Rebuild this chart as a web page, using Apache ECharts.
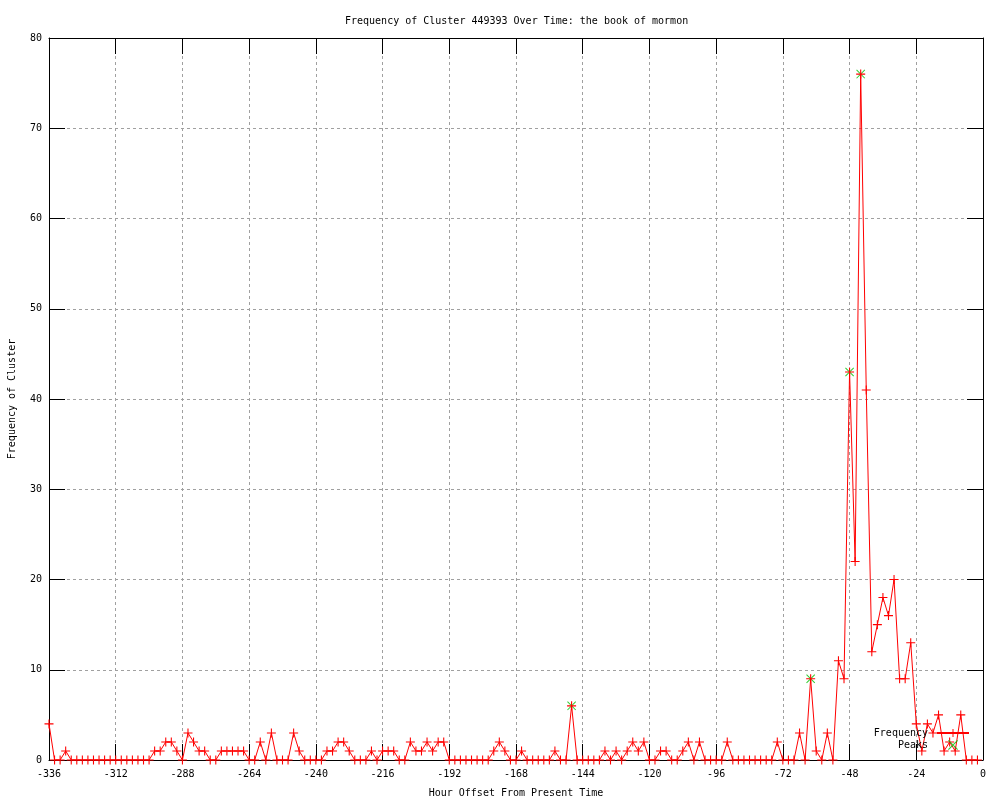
<!DOCTYPE html>
<html>
<head>
<meta charset="utf-8">
<script src="https://cdn.jsdelivr.net/npm/echarts@6/dist/echarts.min.js"></script>
<style>html,body{margin:0;padding:0;background:#fff}#c{width:1000px;height:800px}</style>
</head>
<body>
<div id="c"></div>
<script>
const chartTitle = 'Frequency of Cluster 449393 Over Time: the book of mormon';
const xName = 'Hour Offset From Present Time';
const yName = 'Frequency of Cluster';
const hourStart = -336;
const hourStep = 2;
const frequency = [
  4,0,0,1,0,0,0,0,0,0,0,0,0,0,0,0,0,0,0,1,
  1,2,2,1,0,3,2,1,1,0,0,1,1,1,1,1,0,0,2,0,
  3,0,0,0,3,1,0,0,0,0,1,1,2,2,1,0,0,0,1,0,
  1,1,1,0,0,2,1,1,2,1,2,2,0,0,0,0,0,0,0,0,
  1,2,1,0,0,1,0,0,0,0,0,1,0,0,6,0,0,0,0,0,
  1,0,1,0,1,2,1,2,0,0,1,1,0,0,1,2,0,2,0,0,
  0,0,2,0,0,0,0,0,0,0,0,2,0,0,0,3,0,9,1,0,
  3,0,11,9,43,22,76,41,12,15,18,16,20,9,9,13,4,1,4,3,
  5,1,2,1,5,0,0,0
];
const peakHours = [-148, -62, -48, -44];
const peakValues = [6, 9, 43, 76];

const hours = frequency.map((_, i) => hourStart + hourStep * i);
const freqData = frequency.map((v, i) => [hours[i], v]);
const peakData = peakValues.map((v, i) => [peakHours[i], v]);

const FONT = 'DejaVu Sans Mono';
const plusPath = 'path://M0,4.4L10,4.4L10,5.6L0,5.6Z M4.4,0L5.6,0L5.6,10L4.4,10Z';
const crossPath = 'path://M0,0.8L0.8,0L10,9.2L9.2,10Z M9.2,0L10,0.8L0.8,10L0,9.2Z';

const chart = echarts.init(document.getElementById('c'), null, {renderer: 'canvas'});
const tickStyle = {inside: true, length: 16, lineStyle: {color: '#000', width: 1}};
const option = {
  backgroundColor: '#fff',
  animation: false,
  title: {
    text: chartTitle,
    left: 340, top: 11,
    textStyle: {fontFamily: FONT, fontSize: 10, fontWeight: 'normal', color: '#000'}
  },
  grid: {left: 49, right: 17, top: 38, bottom: 40, containLabel: false, outerBoundsMode: 'none'},
  legend: {
    data: ['Frequency', 'Peaks'],
    orient: 'vertical',
    right: 25, top: 723,
    padding: 5,
    align: 'right',
    itemWidth: 32, itemHeight: 10, itemGap: 2,
    textStyle: {fontFamily: FONT, fontSize: 10, color: '#000', padding: [0, 4, 0, 0]}
  },
  xAxis: [{
    type: 'value', min: -336, max: 0, interval: 24, position: 'bottom',
    name: xName, nameLocation: 'middle', nameGap: 28,
    nameTextStyle: {fontFamily: FONT, fontSize: 10, color: '#000'},
    axisLine: {onZero: false, lineStyle: {color: '#000', width: 1}},
    axisTick: tickStyle,
    axisLabel: {fontFamily: FONT, fontSize: 10, color: '#000', margin: 9},
    splitLine: {show: true, lineStyle: {color: '#a0a0a0', width: 1, type: [3, 3]}}
  }, {
    type: 'value', min: -336, max: 0, interval: 24, position: 'top',
    axisLine: {onZero: false, lineStyle: {color: '#000', width: 1}},
    axisTick: tickStyle,
    axisLabel: {show: false},
    splitLine: {show: false}
  }],
  yAxis: [{
    type: 'value', min: 0, max: 80, interval: 10, position: 'left',
    name: yName, nameLocation: 'middle', nameGap: 32, nameRotate: 90,
    nameTextStyle: {fontFamily: FONT, fontSize: 10, color: '#000'},
    axisLine: {show: true, onZero: false, lineStyle: {color: '#000', width: 1}},
    axisTick: tickStyle,
    axisLabel: {fontFamily: FONT, fontSize: 10, color: '#000', margin: 7},
    splitLine: {show: true, lineStyle: {color: '#a0a0a0', width: 1, type: [3, 3]}}
  }, {
    type: 'value', min: 0, max: 80, interval: 10, position: 'right',
    axisLine: {show: true, onZero: false, lineStyle: {color: '#000', width: 1}},
    axisTick: tickStyle,
    axisLabel: {show: false},
    splitLine: {show: false}
  }],
  series: [{
    name: 'Peaks', type: 'scatter', xAxisIndex: 0, yAxisIndex: 0,
    data: peakData, symbol: crossPath, symbolSize: 9, z: 2,
    itemStyle: {color: '#00c000'}
  }, {
    name: 'Frequency', type: 'line', xAxisIndex: 0, yAxisIndex: 0,
    data: freqData, symbol: plusPath, symbolSize: 9, showSymbol: true, z: 3,
    lineStyle: {color: '#ff0000', width: 1},
    itemStyle: {color: '#ff0000'}
  }]
};
chart.setOption(option);
</script>
</body>
</html>
